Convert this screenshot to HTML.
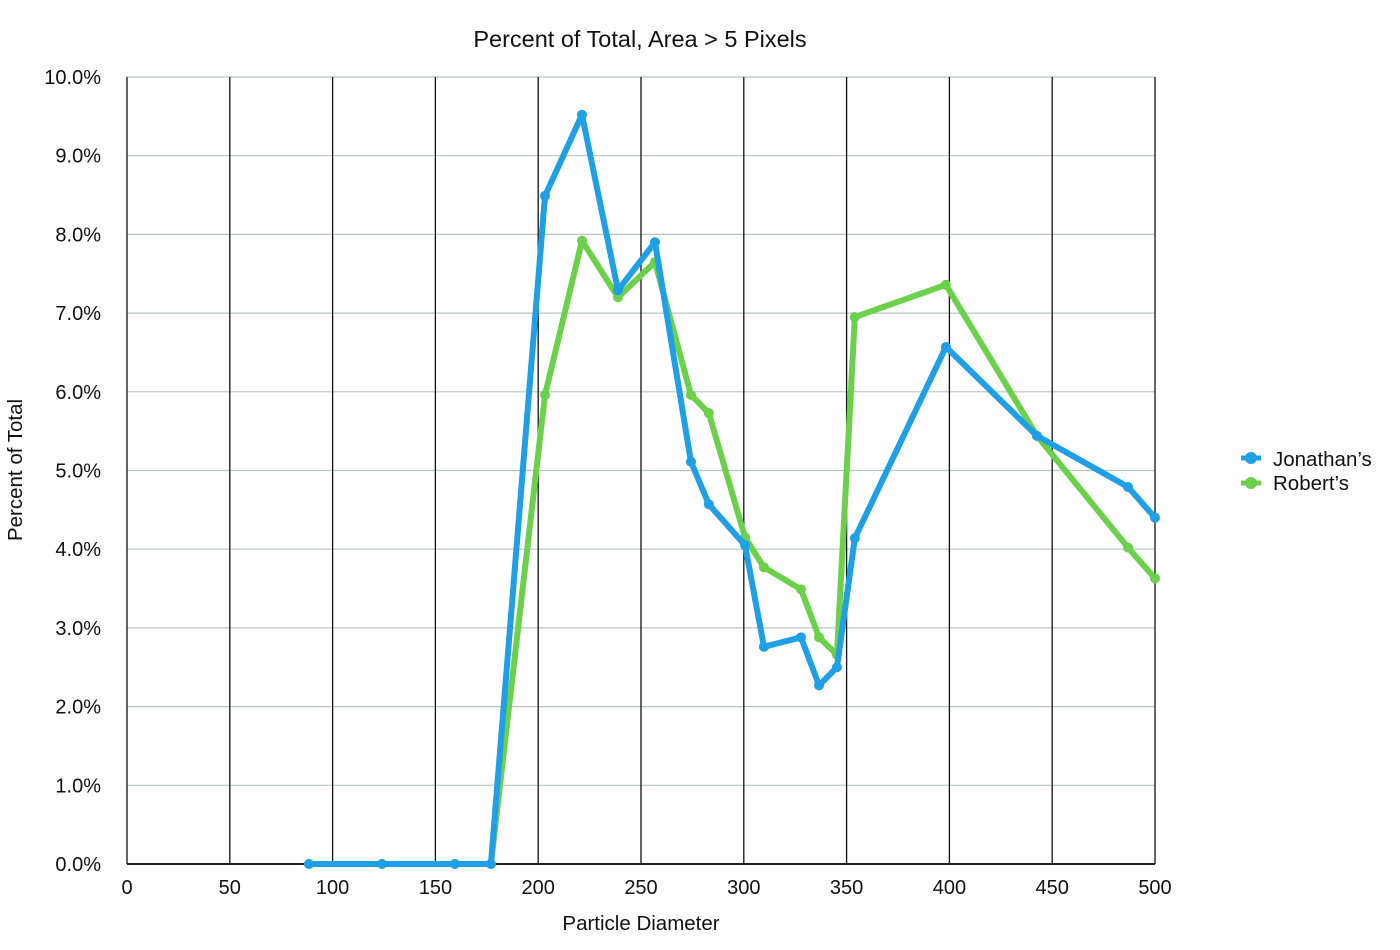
<!DOCTYPE html>
<html><head><meta charset="utf-8"><style>
body{margin:0;background:#fff;font-family:"Liberation Sans",sans-serif;}
svg{display:block}
</style></head><body>
<svg id="chart" width="1400" height="950">
<text x="640" y="47" text-anchor="middle" font-size="23.5" fill="#111">Percent of Total, Area &gt; 5 Pixels</text>
<text transform="translate(22,470) rotate(-90)" text-anchor="middle" font-size="20.5" fill="#111">Percent of Total</text>
<text x="641" y="930" text-anchor="middle" font-size="20.5" fill="#111">Particle Diameter</text>
<g id="grid"></g><g id="series"></g><g id="labels"></g>
<g>
<g><line x1="1241" y1="458" x2="1261" y2="458" stroke="#1e9fe6" stroke-width="5"/><circle cx="1251" cy="458" r="6" fill="#1e9fe6"/><text x="1273" y="466" font-size="20.5" fill="#111">Jonathan’s</text></g>
<g><line x1="1241" y1="483" x2="1261" y2="483" stroke="#6bd04a" stroke-width="5"/><circle cx="1251" cy="483" r="6" fill="#6bd04a"/><text x="1273" y="490" font-size="20.5" fill="#111">Robert’s</text></g>
</g>
</svg>
<script>
const xVals=[88.5,124,159.5,177,203.3,221.3,238.8,256.8,274.3,283,300.6,309.8,327.8,336.6,345.3,354,398.3,442.6,486.9,500];
const jonathan=[0,0,0,0,8.49,9.52,7.29,7.90,5.11,4.57,4.05,2.76,2.88,2.27,2.50,4.14,6.57,5.44,4.79,4.40];
const robert=[0,0,0,0,5.96,7.92,7.20,7.65,5.96,5.73,4.15,3.77,3.49,2.88,2.66,6.95,7.36,5.44,4.02,3.63];
const xTicks=[0,50,100,150,200,250,300,350,400,450,500];
const yTicks=[0,1,2,3,4,5,6,7,8,9,10];
const NS="http://www.w3.org/2000/svg";
const X=v=>127+v*(1028/500);
const Y=v=>864-v*(787/10);
function mk(t,a,p){const e=document.createElementNS(NS,t);for(const k in a)e.setAttribute(k,a[k]);p.appendChild(e);return e;}
const grid=document.getElementById('grid'),lab=document.getElementById('labels'),ser=document.getElementById('series');
yTicks.forEach(t=>{
 const l=mk('line',{x1:127,x2:1155,y1:Y(t),y2:Y(t),stroke:t===0?'#222':'#b8c4c4','stroke-width':t===0?2:1.2},grid);
 
 
 const tx=mk('text',{x:101,y:Y(t)+7,'text-anchor':'end','font-size':20,fill:'#111'},lab);
 tx.textContent=t.toFixed(1)+'%';
 
 
});
xTicks.forEach(t=>{
 const l=mk('line',{x1:X(t),x2:X(t),y1:Y(10),y2:Y(0),stroke:'#111','stroke-width':1.3},grid);
 
 
 const tx=mk('text',{x:X(t),y:894,'text-anchor':'middle','font-size':20,fill:'#111'},lab);
 tx.textContent=t;
 
 
});
function draw(vals,color,name){
 const g=mk('g',{},ser);
 
 
 const p=mk('polyline',{points:vals.map((v,i)=>X(xVals[i])+','+Y(v)).join(' '),fill:'none',stroke:color,'stroke-width':6,'stroke-linejoin':'round'},g);
 
 
 vals.forEach((v,i)=>{
  const c=mk('circle',{cx:X(xVals[i]),cy:Y(v),r:5,fill:color},g);
  
  
 });
}
draw(robert,'#6bd04a','roberts');
draw(jonathan,'#1e9fe6','jonathans');
</script>
</body></html>
